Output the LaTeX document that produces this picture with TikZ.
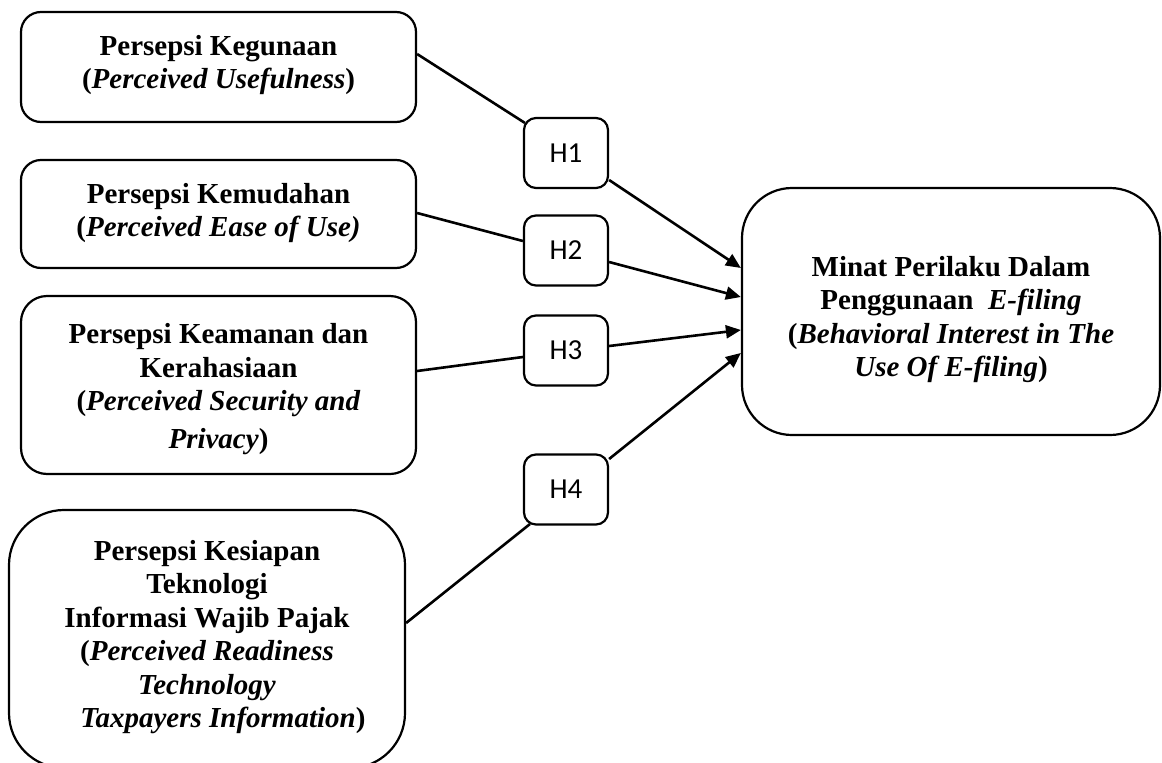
\documentclass[tikz,border=0pt]{standalone}
\usepackage{fontspec}
\setmainfont{Liberation Serif}
\newfontfamily\hfont{Carlito}
\usetikzlibrary{arrows.meta,calc}
\begin{document}
\begin{tikzpicture}[x=1pt,y=-1pt,
  bigbox/.style={draw, line width=2.2pt, inner sep=0pt},
  hbox/.style={draw, line width=2.2pt, rounded corners=12pt, minimum width=84pt, minimum height=70pt, inner sep=0pt, font=\hfont\fontsize{29}{32}\selectfont},
  txt/.style={align=center, font=\bfseries\fontsize{29}{33.5}\selectfont, inner sep=0pt},
  link/.style={line width=2.6pt},
  arr/.style={line width=2.6pt, -{Triangle[length=15pt,width=13pt]}}]
\useasboundingbox (0,0) rectangle (1162,763);

% left boxes
\node[bigbox, rounded corners=20pt, minimum width=395pt, minimum height=110pt] (b1) at (218.5,67) {};
\node[txt] (t1) at ($(b1)+(0,-2)$) {Persepsi Kegunaan\\(\textit{Perceived Usefulness})};

\node[bigbox, rounded corners=20pt, minimum width=395pt, minimum height=108pt] (b2) at (218.5,214) {};
\node[txt] (t2) at ($(b2)+(0,-1)$) {Persepsi Kemudahan\\(\textit{Perceived Ease of Use)}};

\node[bigbox, rounded corners=26pt, minimum width=395pt, minimum height=178pt] (b3) at (218.5,385) {};
\node[txt] (t3) at ($(b3)+(0,4)$) {Persepsi Keamanan dan\\Kerahasiaan\\(\textit{Perceived Security and}\\[4pt]\textit{Privacy})};

\node[bigbox, rounded corners=55pt, minimum width=396pt, minimum height=258pt] (b4) at (207,639) {};
\node[txt] (t4) at ($(b4)+(0,-2)$) {Persepsi Kesiapan\\Teknologi\\Informasi Wajib Pajak\\(\textit{Perceived Readiness}\\\textit{Technology}\\\hspace*{1.1em}\textit{Taxpayers Information})};

% right box
\node[bigbox, rounded corners=50pt, minimum width=418pt, minimum height=247pt] (r) at (951,311.5) {};
\node[txt] (rt) at ($(r)+(0,8)$) {Minat Perilaku Dalam\\Penggunaan\ \ \textit{E-filing}\\(\textit{Behavioral Interest in The}\\\textit{Use Of E-filing})};

% hypothesis boxes
\node[hbox] (h1) at (566,153) {H1};
\node[hbox] (h2) at (566,250.5) {H2};
\node[hbox] (h3) at (566,350.5) {H3};
\node[hbox] (h4) at (566,489.5) {H4};

% connectors
\draw[link] ($(b1.east)+(0,-13)$) -- ($(h1)+(-41,-30)$);
\draw[arr] ($(h1.east)+(0,27)$) -- ($(r.west)+(0,-43.5)$);

\draw[link] ($(b2.east)+(0,-1)$) -- ($(h2.west)+(0,-9.5)$);
\draw[arr] ($(h2.east)+(0,11.5)$) -- ($(r.west)+(0,-14.5)$);

\draw[link] ($(b3.east)+(0,-14)$) -- ($(h3.west)+(0,6.5)$);
\draw[arr] ($(h3.east)+(0,-4.5)$) -- ($(r.west)+(0,18.5)$);

\draw[link] ($(b4.east)+(0,-16)$) -- ($(h4)+(-36,34.5)$);
\draw[arr] ($(h4.east)+(0,-30.5)$) -- ($(r.west)+(0,41.5)$);
\end{tikzpicture}
\end{document}
